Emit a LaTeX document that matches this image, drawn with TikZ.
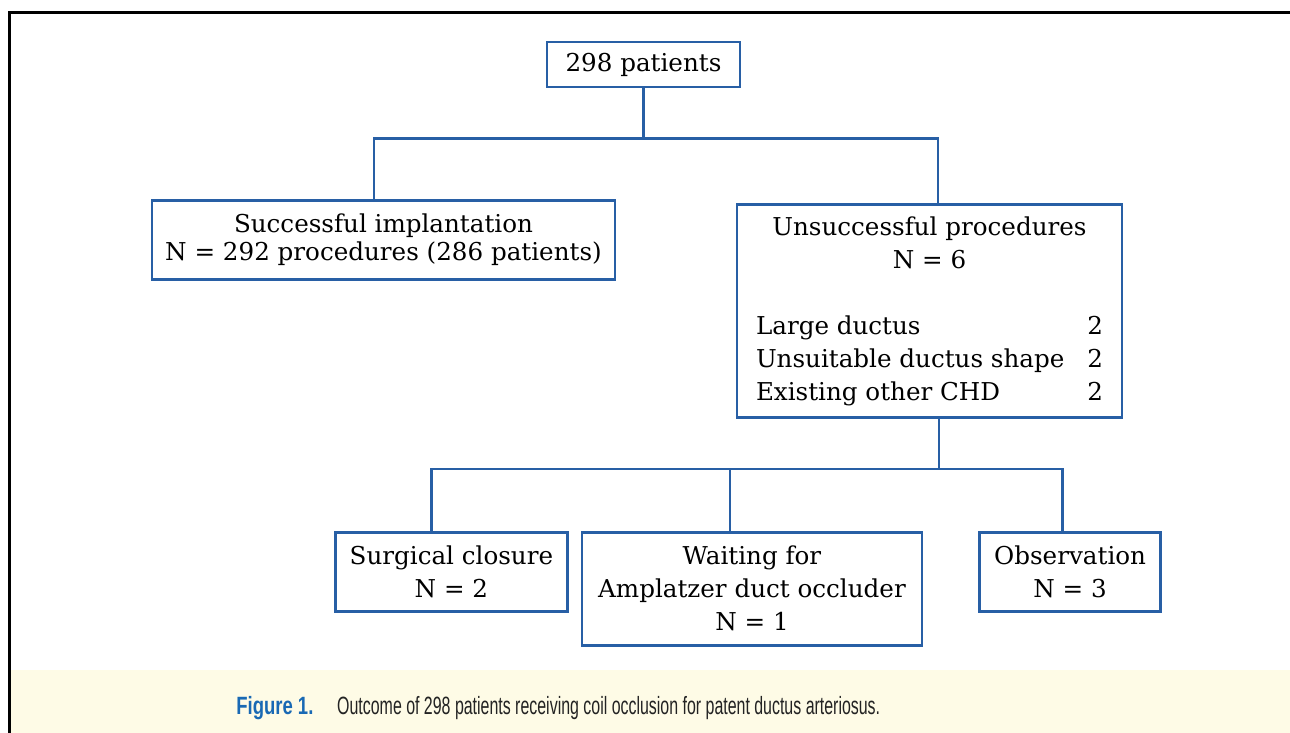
\documentclass[tikz,border=0pt]{standalone}
\usepackage{graphicx}
\usepackage{fontspec}
\setmainfont{DejaVu Serif}
\newfontfamily\capfont{Liberation Sans}
\usetikzlibrary{positioning}

\definecolor{chartblue}{RGB}{40,95,165}
\definecolor{capyellow}{RGB}{254,251,230}
\definecolor{capblue}{RGB}{25,105,180}
\definecolor{captext}{RGB}{35,35,35}

\begin{document}
\begin{tikzpicture}[
  x=1pt, y=1pt,
  font=\fontsize{12.3}{16.5}\selectfont,
  box/.style={draw=chartblue, line width=1.3pt, align=center, inner sep=0pt},
  link/.style={draw=chartblue, line width=1.3pt}
]
\useasboundingbox (0,0) rectangle (645,-366.5);
% caption band and frame
\fill[capyellow] (5.5,-335) rectangle (645,-366.5);
\draw[line width=1.5pt] (4.75,-366.5) |- (645,-6.5);

\node[box, minimum width=96.5pt, minimum height=22.5pt] (top) at (321.75,-32.25) {298 patients};
\node[box, below=55.5pt of top, xshift=-130pt, minimum width=231.5pt, minimum height=39.5pt,
  font=\fontsize{12.3}{14}\selectfont] (succ)
  {Successful implantation\\N = 292 procedures (286 patients)};
\node[box, below=57.5pt of top, xshift=143pt, minimum width=192.5pt, minimum height=106.5pt] (unsucc)
  {Unsuccessful procedures\\N = 6\\[16.5pt]
   \makebox[173.5pt]{Large ductus\hfill 2}\\
   \makebox[173.5pt]{Unsuitable ductus shape\hfill 2}\\
   \makebox[173.5pt]{Existing other CHD\hfill 2}};

\node[box, below=56pt of unsucc, xshift=-88.75pt, minimum width=170pt, minimum height=56.5pt] (wait)
  {Waiting for\\Amplatzer duct occluder\\N = 1};
\node[box, left=6pt of wait.north west, anchor=north east, minimum width=116pt, minimum height=39.5pt] (surg)
  {Surgical closure\\N = 2};
\node[box, right=27.5pt of wait.north east, anchor=north west, minimum width=90.5pt, minimum height=39.5pt] (obs)
  {Observation\\N = 3};

\draw[link] (top.south) -- ++(0,-25pt) -| ([xshift=-4.75pt]succ.north);
\draw[link] (top.south) -- ++(0,-25pt) -| ([xshift=4.25pt]unsucc.north);
\draw[link] ([xshift=4.75pt]unsucc.south) -- ++(0,-25pt) -| ([xshift=-10pt]surg.north);
\draw[link] ([xshift=4.75pt]unsucc.south) -- ++(0,-25pt) -| ([xshift=-11pt]wait.north);
\draw[link] ([xshift=4.75pt]unsucc.south) -- ++(0,-25pt) -| ([xshift=-3.75pt]obs.north);

% caption
\node[anchor=base west, inner sep=0pt, text=capblue, font=\capfont\bfseries\fontsize{12.5}{14}\selectfont] (figlabel)
  at (118,-357) {\resizebox{38.5pt}{\height}{Figure 1.}};
\node[right=11.5pt of figlabel.base east, anchor=base west, inner sep=0pt, text=captext,
  font=\capfont\fontsize{12.5}{14}\selectfont] (figcaption)
  {\resizebox{271.5pt}{\height}{Outcome of 298 patients receiving coil occlusion for patent ductus arteriosus.}};
\end{tikzpicture}
\end{document}
